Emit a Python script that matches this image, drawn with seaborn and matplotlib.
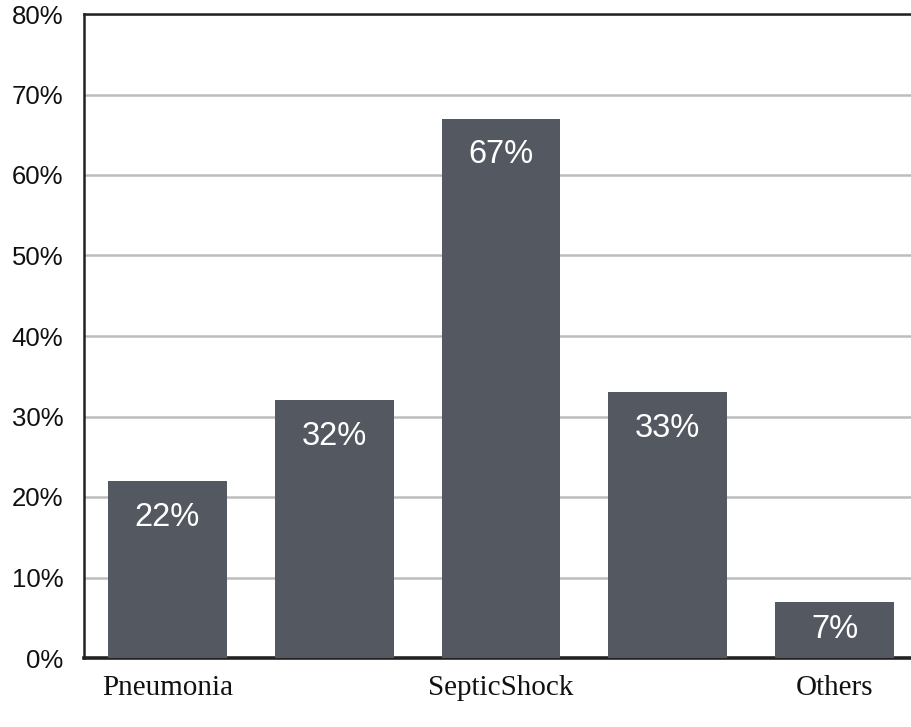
import matplotlib
matplotlib.use("Agg")
import matplotlib.pyplot as plt
import seaborn as sns
import pandas as pd

# Share of patients per condition (percent)
tick_labels = ["Pneumonia", "", "SepticShock", "", "Others"]
values = [22, 32, 67, 33, 7]
y_ticks = [0, 10, 20, 30, 40, 50, 60, 70, 80]

bar_color = "#545861"

sns.set_theme(style="white")
plt.rcParams["font.family"] = ["Liberation Sans", "DejaVu Sans"]

df = pd.DataFrame({"idx": range(len(values)), "value": values})

fig = plt.figure(figsize=(9.11, 7.27), dpi=100)
# axes extend slightly past the right edge of the canvas
ax = fig.add_axes([84 / 911, 1 - 658 / 727, (918 - 84) / 911, (658 - 14) / 727])

sns.barplot(data=df, x="idx", y="value", color=bar_color, saturation=1,
            width=0.713, linewidth=0, edgecolor="none", ax=ax, zorder=3)

ax.set_xlim(-0.5, len(values) - 0.5)
ax.set_ylim(0, 80)
ax.set_yticks(y_ticks)
ax.set_yticklabels([f"{t}%" for t in y_ticks], fontsize=18.5, color="#111111")
ax.set_xticks(range(len(values)))
ax.set_xticklabels(tick_labels, fontsize=21, family="Liberation Serif", color="#111111")
ax.tick_params(axis="y", length=0, pad=15)
ax.tick_params(axis="x", length=0, pad=12)
ax.set_xlabel("")
ax.set_ylabel("")

ax.yaxis.grid(True, color="#bdbdbd", linewidth=1.8, zorder=0)
ax.set_axisbelow(True)

for side in ["left", "bottom", "top"]:
    ax.spines[side].set_visible(True)
    ax.spines[side].set_color("#222222")
    ax.spines[side].set_linewidth(1.8)
ax.spines["bottom"].set_linewidth(2.6)
ax.spines["right"].set_visible(False)

for i, v in enumerate(values):
    if v >= 15:
        ax.annotate(f"{v}%", xy=(i, v), xytext=(0, -26), textcoords="offset points",
                    ha="center", va="center", color="white", fontsize=23.5, zorder=5)
    else:
        ax.text(i, v / 2, f"{v}%", ha="center", va="center", color="white",
                fontsize=23.5, zorder=5)

fig.savefig("out.png", dpi=100)
